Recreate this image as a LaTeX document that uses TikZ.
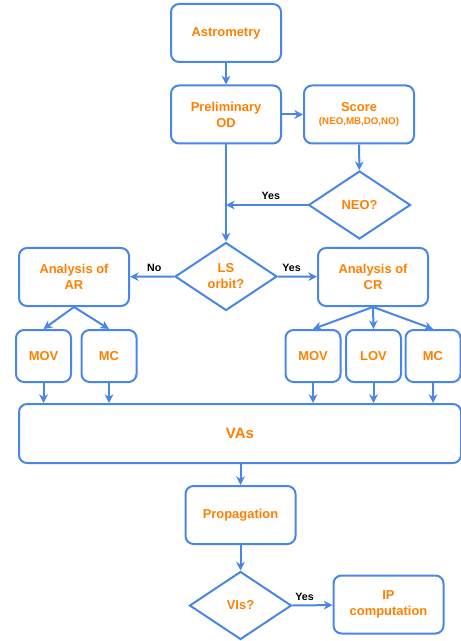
\documentclass[tikz,border=0pt]{standalone}
\usepackage{fontspec}
\setmainfont{Liberation Sans}
\usetikzlibrary{shapes.geometric,arrows.meta}
\definecolor{flowblue}{RGB}{74,134,232}
\definecolor{floworange}{RGB}{255,128,0}

\begin{document}
\begin{tikzpicture}[x=0.75pt,y=-0.75pt,>={Stealth[length=6.5pt,width=6.5pt,inset=2pt]},
   box/.style={draw=flowblue,line width=1.5pt,rounded corners=6pt,text=floworange,
     align=center,minimum width=82.5pt,minimum height=43.5pt,inner sep=1pt,
     font=\fontsize{9.7}{12}\selectfont\bfseries},
   smallbox/.style={box,minimum width=41.25pt,minimum height=39pt},
   decision/.style={box,diamond,rounded corners=0pt,aspect=1.5,
     minimum width=76.5pt,minimum height=51pt,inner sep=0pt},
   link/.style={draw=flowblue,line width=1.5pt,->},
   lbl/.style={font=\fontsize{8}{9}\selectfont\bfseries,text=black,inner sep=2pt}]
   \useasboundingbox (0,0) rectangle (460,641);

   \node[box] (astro) at (226,33) {Astrometry};
   \node[box] (prel) at (226,114.5) {Preliminary\\OD};
   \node[box] (score) at (359,114.5) {Score\\[-2pt]{\fontsize{7.3}{8}\selectfont(NEO,MB,DO,NO)}};
   \node[decision] (neo) at (359.5,205) {NEO?};
   \coordinate (join) at (226,205);

   \node[decision] (ls) at (226,276.5) {LS\\orbit?};
   \node[box] (ar) at (74,277) {Analysis of\\AR};
   \node[box] (cr) at (373,277) {Analysis of\\CR};

   \node[smallbox] (movl) at (43.5,356) {MOV};
   \node[smallbox] (mcl) at (109,356) {MC};
   \node[smallbox] (movr) at (313,356) {MOV};
   \node[smallbox] (lov) at (373.5,356) {LOV};
   \node[smallbox] (mcr) at (433,356) {MC};

   \node[box,minimum width=331.5pt,minimum height=44.25pt,
     font=\fontsize{11.25}{13}\selectfont\bfseries] (vas) at (240,433.5) {VAs};
   \node[box] (prop) at (240.5,515) {Propagation};
   \node[decision] (vis) at (240.5,605.5) {VIs?};
   \node[box] (ip) at (388.5,604.5) {IP\\computation};

   \draw[link] (astro) -- (prel);
   \draw[link] (prel) -- (score);
   \draw[link] (score) -- (neo);
   \draw[link] (neo.west) -- node[lbl,above,pos=0.45,yshift=1pt]{Yes} (join);
   \draw[link] (prel) -- (ls);

   \draw[link] (ls.west) -- node[lbl,above,pos=0.45,yshift=1pt]{No} (ar);
   \draw[link] (ls.east) -- node[lbl,above,pos=0.35,yshift=1pt]{Yes} (cr);

   \draw[link] (ar.south) -- (movl.north);
   \draw[link] (ar.south) -- (mcl.north);
   \draw[link] (cr.south) -- (movr.north);
   \draw[link] (cr.south) -- (lov.north);
   \draw[link] (cr.south) -- (mcr.north);

   \foreach \n in {movl,mcl,movr,lov,mcr}
     \draw[link] (\n.south) -- (\n.south |- vas.north);

   \draw[link] (vas.south -| prop.north) -- (prop);
   \draw[link] (prop) -- (vis);
   \draw[link] (vis.east) -- node[lbl,above,pos=0.3,yshift=1pt]{Yes} (ip);
\end{tikzpicture}
\end{document}
